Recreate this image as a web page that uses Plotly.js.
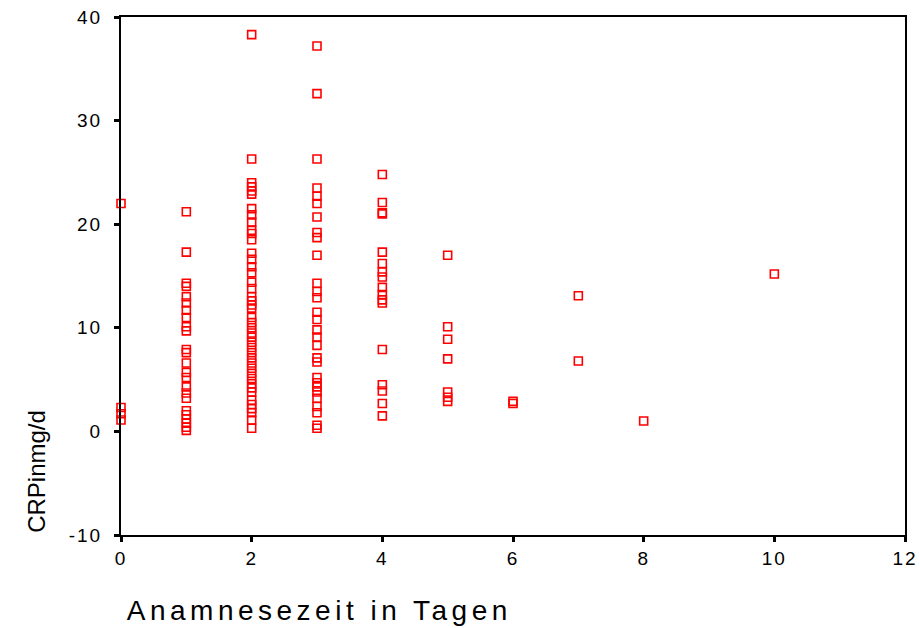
<!DOCTYPE html>
<html>
<head>
<meta charset="utf-8">
<script src="https://cdn.plot.ly/plotly-3.0.1.min.js"></script>
<style>
body{margin:0;background:#fff}#chart{width:920px;height:628px}
.xtick text, .ytick text {letter-spacing: 2px;}
</style>
</head>
<body>
<div id="chart"></div>
<script>
// CRP values (mg/dl) grouped by Anamnesezeit (days)
const days0 = [22.0, 2.3, 1.7, 1.1];
const days1 = [21.2, 17.3, 14.3, 14.0, 13.0, 12.4, 11.7, 11.0, 10.1, 9.7, 7.9, 7.6, 6.6, 5.7, 5.2, 4.3, 3.7, 3.2, 2.0, 1.6, 1.2, 0.8, 0.4, 0.1];
const days2 = [38.3, 26.3, 24.0, 23.6, 23.2, 22.9, 21.5, 20.9, 20.2, 19.4, 19.1, 18.5, 17.2, 16.6, 15.9, 15.3, 14.4, 13.8, 13.0, 12.6, 12.2, 11.9, 11.0, 10.5, 10.0, 9.5, 9.1, 8.6, 8.1, 7.6, 7.1, 6.6, 6.1, 5.6, 5.1, 4.6, 4.2, 3.8, 3.0, 2.6, 2.2, 1.8, 1.1, 0.3];
const days3 = [37.2, 32.6, 26.3, 23.5, 22.7, 22.0, 20.7, 19.2, 18.7, 17.0, 14.3, 13.5, 12.9, 11.5, 10.8, 9.8, 9.1, 8.3, 7.1, 6.7, 5.2, 4.7, 4.3, 3.8, 3.2, 2.4, 1.8, 0.6, 0.3];
const days4 = [24.8, 22.1, 21.1, 21.0, 17.3, 16.2, 15.4, 14.9, 13.9, 13.2, 12.7, 12.4, 7.9, 4.5, 3.9, 2.7, 1.5];
const days5 = [17.0, 10.1, 8.9, 7.0, 3.8, 3.3, 2.9];
const days6 = [2.9, 2.7];
const days7 = [13.1, 6.8];
const days8 = [1.0];
const days10 = [15.2];

const groups = [[0, days0], [1, days1], [2, days2], [3, days3], [4, days4], [5, days5], [6, days6], [7, days7], [8, days8], [10, days10]];
const xVals = [], yVals = [];
groups.forEach(([d, arr]) => arr.forEach(v => { xVals.push(d); yVals.push(v); }));

const xTicks = [0, 2, 4, 6, 8, 10, 12];
const yTicks = [-10, 0, 10, 20, 30, 40];

const font = {family: 'Liberation Sans, Arial, sans-serif', color: '#000'};

Plotly.newPlot('chart', [{
  type: 'scatter', mode: 'markers', x: xVals, y: yVals, cliponaxis: false,
  marker: {symbol: 'square-open', size: 8, color: '#ff0000', line: {width: 1.6, color: '#ff0000'}},
  hoverinfo: 'x+y'
}], {
  width: 920, height: 628,
  margin: {l: 121, r: 15, t: 17, b: 93},
  paper_bgcolor: '#fff', plot_bgcolor: '#fff',
  showlegend: false,
  font: font,
  xaxis: {
    range: [0, 12], tickvals: xTicks, ticktext: xTicks.map(String),
    showgrid: false, zeroline: false, showline: true, mirror: true,
    linecolor: '#000', linewidth: 2, ticks: 'outside', ticklen: 5, tickwidth: 3, tickcolor: '#000',
    tickfont: {size: 19, family: font.family, color: '#000'}
  },
  yaxis: {
    range: [-10, 40], tickvals: yTicks, ticktext: yTicks.map(String),
    showgrid: false, zeroline: false, showline: true, mirror: true,
    linecolor: '#000', linewidth: 2, ticks: 'outside', ticklen: 5, tickwidth: 3, tickcolor: '#000',
    ticklabelstandoff: 8,
    tickfont: {size: 19, family: font.family, color: '#000'}
  },
  annotations: [
    {text: 'Anamnesezeit in Tagen', xref: 'paper', yref: 'paper', x: 0.253, y: -0.145,
     xanchor: 'center', yanchor: 'middle', showarrow: false,
     font: {size: 28, family: font.family, color: '#000'}},
    {text: 'CRPinmg/d', xref: 'paper', yref: 'paper', x: -0.108, y: 0, textangle: -90,
     xanchor: 'center', yanchor: 'bottom', showarrow: false,
     font: {size: 24, family: font.family, color: '#000'}}
  ]
}, {displayModeBar: false}).then(() => {
  const ann = document.querySelectorAll('.annotation text');
  if (ann[0]) ann[0].style.letterSpacing = '4.5px';
});
</script>
</body>
</html>
